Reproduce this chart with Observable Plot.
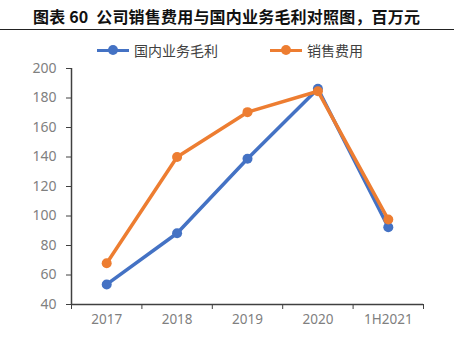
<!DOCTYPE html>
<html><head><meta charset="utf-8">
<script src="https://cdn.jsdelivr.net/npm/d3@7"></script>
<script src="https://cdn.jsdelivr.net/npm/@observablehq/plot@0.6"></script>
<style>
body{margin:0;background:#fff;width:454px;height:357px;overflow:hidden;font-family:"Noto Sans CJK SC","Noto Sans",sans-serif;}
#title{height:30px;border-bottom:1.5px solid #222;font-weight:bold;font-size:16px;line-height:32px;padding-left:33px;color:#111;box-sizing:border-box;letter-spacing:0.2px}
#legend{height:20px;position:relative;font-size:14px;color:#404040}
.item{position:absolute;top:10px;display:flex;align-items:center}
.sw{position:relative;width:32px;height:14px;margin-right:5px}
.sw .ln{position:absolute;left:0;right:0;top:5.5px;height:3.5px}
.sw .dt{position:absolute;left:11px;top:2px;width:10px;height:10px;border-radius:50%}
#chart svg{overflow:visible}
</style></head>
<body>
<div id="title">图表 60&nbsp; 公司销售费用与国内业务毛利对照图，百万元</div>
<div id="legend"></div>
<div id="chart"></div>
<script>
const categories = ["2017","2018","2019","2020","1H2021"];
const seriesNames = ["国内业务毛利","销售费用"];
const grossProfit = [53.6, 88.3, 138.8, 186.2, 92.4];
const salesExpense = [68.0, 140.0, 170.4, 184.6, 97.6];
const yTicks = [40,60,80,100,120,140,160,180,200];
const colors = ["#4472C4","#ED7D31"];

const rows = [];
categories.forEach((c,i)=>{
  rows.push({i, cat:c, series:seriesNames[0], value:grossProfit[i]});
  rows.push({i, cat:c, series:seriesNames[1], value:salesExpense[i]});
});
const bounds = d3.range(categories.length+1).map(i=>i-0.5);

const legend = document.getElementById("legend");
const lefts = [97, 270];
seriesNames.forEach((s,k)=>{
  const d = document.createElement("div");
  d.className="item"; d.style.left=lefts[k]+"px";
  d.innerHTML=`<div class="sw"><div class="ln" style="background:${colors[k]}"></div><div class="dt" style="background:${colors[k]}"></div></div><span>${s}</span>`;
  legend.appendChild(d);
});

const chart = Plot.plot({
  width:454, height:307,
  marginTop:18, marginBottom:53, marginLeft:71, marginRight:31,
  style:{fontFamily:"'Noto Sans','DejaVu Sans',sans-serif", fontSize:"13px", color:"#808080", background:"transparent"},
  x:{type:"linear", domain:[-0.5, categories.length-0.5]},
  y:{type:"linear", domain:[40,200]},
  color:{domain:seriesNames, range:colors},
  marks:[
    Plot.axisY({ticks:yTicks, tickSize:5, tickPadding:10, label:null, stroke:"#404040", fill:"#808080", fontSize:14}),
    Plot.axisX({ticks:bounds, tickSize:5, tickFormat:()=>"", label:null, stroke:"#404040"}),
    Plot.axisX({ticks:d3.range(categories.length), tickSize:0, tickPadding:10, tickFormat:i=>categories[i], label:null, fill:"#808080", fontSize:13.5}),
    Plot.ruleY([40], {stroke:"#404040", strokeWidth:1.5}),
    Plot.ruleX([-0.5], {y1:40, y2:200, stroke:"#404040", strokeWidth:1.5}),
    Plot.line(rows, {x:"i", y:"value", stroke:"series", strokeWidth:3.5, strokeLinejoin:"round"}),
    Plot.dot(rows, {x:"i", y:"value", fill:"series", r:5, stroke:"none"})
  ]
});
document.getElementById("chart").appendChild(chart);
</script>
</body></html>
